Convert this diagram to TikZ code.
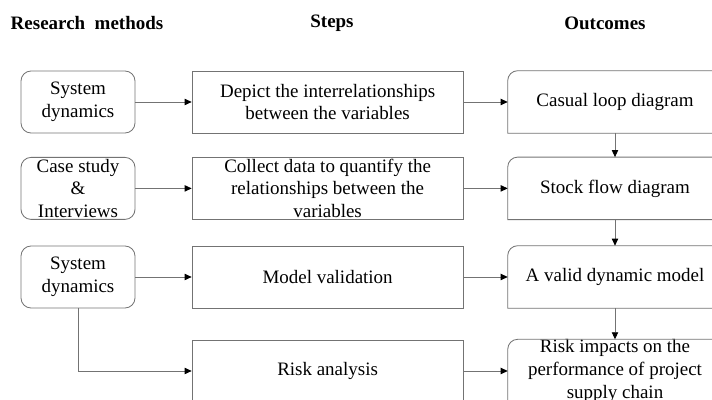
\documentclass[tikz,border=0pt]{standalone}
\usepackage{fontspec}
\setmainfont{Liberation Serif}
\usetikzlibrary{arrows.meta}
\def\boxfont{\fontsize{13.5}{16.2}\selectfont}

\begin{document}
\begin{tikzpicture}[
	method/.style={draw=black!55, line width=0.6pt, rounded corners=0.25cm, minimum width=2.85cm, minimum height=1.55cm, inner sep=0pt, align=center, font=\boxfont},
	stepbox/.style={draw=black!55, line width=0.6pt, minimum width=6.775cm, minimum height=1.55cm, inner sep=0pt, align=center, font=\boxfont},
	outcome/.style={minimum width=5.35cm, minimum height=1.55cm, inner sep=0pt, align=center, font=\boxfont},
	outline/.style={draw=black!55, line width=0.6pt},
	header/.style={font=\boxfont\bfseries},
	flow/.style={draw=black!55, line width=0.6pt, -{Triangle[length=5pt, width=4.5pt, color=black]}}
]
			%%%%% START %%%%%
			
			\useasboundingbox (0, 0) rectangle (17.8, 10);
			\clip (0, 0) rectangle (17.8, 10);
			
			\node[header] (hm) at (2.175, 9.425) {Research\ \ methods};
			\node[header] (hs) at (8.3, 9.425) {Steps};
			\node[header] (ho) at (15.125, 9.425) {Outcomes};
			
			\node[method] (m1) at (1.95, 7.45) {System\\dynamics};
			\node[method] (m2) at (1.95, 5.29) {Case study\\\&\\Interviews};
			\node[method] (m3) at (1.95, 3.075) {System\\dynamics};
			
			\node[stepbox] (s1) at (8.19, 7.45) {Depict the interrelationships\\between the variables};
			\node[stepbox] (s2) at (8.19, 5.29) {Collect data to quantify the\\relationships between the\\variables};
			\node[stepbox] (s3) at (8.19, 3.075) {Model validation};
			\node[stepbox] (s4) at (8.19, 0.725) {Risk analysis};
			
			\node[outcome] (o1) at (15.375, 7.45) {Casual loop diagram};
			\node[outcome] (o2) at (15.375, 5.29) {Stock flow diagram};
			\node[outcome] (o3) at (15.375, 3.075) {A valid dynamic model};
			\node[outcome] (o4) at (15.375, 0.725) {Risk impacts on the\\performance of project\\supply chain};
			
			\foreach \n in {o1, o2, o3, o4}
				\draw[outline] (\n.south west) [rounded corners=0.25cm] -- (\n.north west) [sharp corners] -- (\n.north east) -- (\n.south east) -- cycle;
			
			\foreach \i in {1, 2, 3} {
				\draw[flow] (m\i) -- (s\i);
			}
			\foreach \i in {1, 2, 3, 4} {
				\draw[flow] (s\i) -- (o\i);
			}
			
			\draw[flow] (o1) -- (o2);
			\draw[flow] (o2) -- (o3);
			\draw[flow] (o3) -- (o4);
			
			\draw[flow] (m3.south) |- (s4.west);
			
			%%%%% END %%%%%
\end{tikzpicture}
\end{document}
